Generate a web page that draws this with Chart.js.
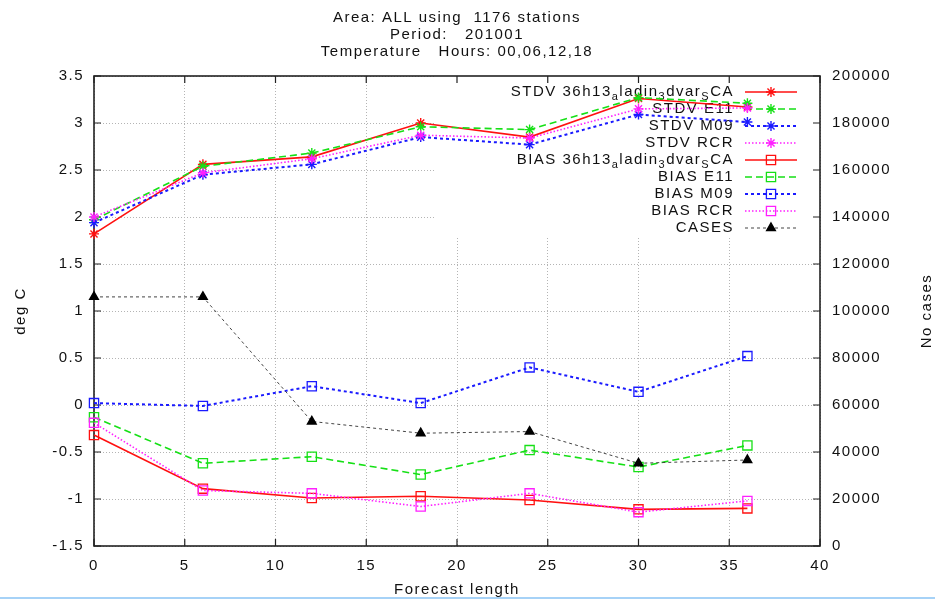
<!DOCTYPE html>
<html>
<head>
<meta charset="utf-8">
<title>Temperature verification 201001</title>
<script src="https://cdn.jsdelivr.net/npm/chart.js@4/dist/chart.umd.min.js"></script>
<style>
  html, body { margin: 0; padding: 0; background: #fff; overflow: hidden; }
  #wrap { width: 935px; height: 599px; position: relative; }
</style>
</head>
<body>
<div id="wrap"><canvas id="c" width="935" height="599"></canvas></div>
<script>
// ---- data -------------------------------------------------------------
const leadTimes = [0, 6, 12, 18, 24, 30, 36];

const stdvAladin = [1.82, 2.56, 2.64, 3.00, 2.85, 3.26, 3.17];
const stdvE11    = [1.97, 2.54, 2.68, 2.96, 2.93, 3.27, 3.21];
const stdvM09    = [1.94, 2.45, 2.56, 2.85, 2.77, 3.09, 3.01];
const stdvRCR    = [2.00, 2.47, 2.62, 2.87, 2.84, 3.15, 3.16];

const biasAladin = [-0.32, -0.89, -0.99, -0.97, -1.01, -1.11, -1.10];
const biasE11    = [-0.13, -0.62, -0.55, -0.74, -0.48, -0.66, -0.43];
const biasM09    = [0.02, -0.01, 0.20, 0.02, 0.40, 0.14, 0.52];
const biasRCR    = [-0.19, -0.91, -0.94, -1.08, -0.94, -1.14, -1.02];

const cases      = [106000, 106000, 53000, 48000, 48700, 35200, 36600];

// "_" marks the next character as a subscript
const seriesLabels = [
  'STDV 36h13_aladin_3dvar_SCA', 'STDV E11', 'STDV M09', 'STDV RCR',
  'BIAS 36h13_aladin_3dvar_SCA', 'BIAS E11', 'BIAS M09', 'BIAS RCR', 'CASES'
];

const titleLines = [
  'Area: ALL using  1176 stations',
  'Period:   201001',
  'Temperature   Hours: 00,06,12,18'
];

const xTicks      = [0, 5, 10, 15, 20, 25, 30, 35, 40];
const yLeftTicks  = [-1.5, -1, -0.5, 0, 0.5, 1, 1.5, 2, 2.5, 3, 3.5];
const yRightTicks = [0, 20000, 40000, 60000, 80000, 100000, 120000, 140000, 160000, 180000, 200000];

// ---- look -------------------------------------------------------------
const FONT = "'Liberation Sans', Arial, sans-serif";
const LETTER = '1.5px';
const INK = '#111';
const GRID = '#b4b4b4';

const RED = '#ff1010', GREEN = '#16e016', BLUE = '#1a1aff', MAGENTA = '#ff20ff', GREY = '#444';

const looks = [
  { color: RED,     dash: [],       width: 1.6, mark: 'star',     r: 5   },
  { color: GREEN,   dash: [7, 4],   width: 1.6, mark: 'star',     r: 5   },
  { color: BLUE,    dash: [3, 3],   width: 2.0, mark: 'star',     r: 5   },
  { color: MAGENTA, dash: [1.5, 2], width: 1.6, mark: 'star',     r: 5   },
  { color: RED,     dash: [],       width: 1.6, mark: 'rect',     r: 6.5 },
  { color: GREEN,   dash: [7, 4],   width: 1.6, mark: 'rect',     r: 6.5 },
  { color: BLUE,    dash: [3, 3],   width: 2.0, mark: 'rect',     r: 6.5 },
  { color: MAGENTA, dash: [1.5, 2], width: 1.6, mark: 'rect',     r: 6.5 },
  { color: GREY,    dash: [3, 3],   width: 1.0, mark: 'triangle', r: 5, markColor: '#000' }
];

const seriesValues = [stdvAladin, stdvE11, stdvM09, stdvRCR, biasAladin, biasE11, biasM09, biasRCR, cases];

const datasets = seriesValues.map((vals, i) => {
  const lk = looks[i];
  const isCases = i === seriesValues.length - 1;
  return {
    label: seriesLabels[i].replace(/_/g, ''),
    data: leadTimes.map((t, k) => ({ x: t, y: vals[k] })),
    yAxisID: isCases ? 'y2' : 'y',
    borderColor: lk.color,
    borderWidth: lk.width,
    borderDash: lk.dash,
    pointStyle: lk.mark,
    pointRadius: lk.r,
    pointBorderWidth: lk.mark === 'rect' ? 1.3 : 1.4,
    pointBorderColor: lk.markColor || lk.color,
    pointBackgroundColor: lk.mark === 'triangle' ? '#000' : 'rgba(0,0,0,0)',
    tension: 0,
    fill: false,
    clip: false,
    // later series are painted on top
    order: seriesValues.length - i
  };
});

// ---- key / frame drawing helpers ---------------------------------------
function drawMark(ctx, mark, x, y, r, color, fillColor, lw) {
  ctx.save();
  ctx.setLineDash([]);
  ctx.strokeStyle = color;
  ctx.lineWidth = lw;
  ctx.beginPath();
  if (mark === 'star') {
    const d = r * Math.SQRT1_2;
    ctx.moveTo(x - r, y); ctx.lineTo(x + r, y);
    ctx.moveTo(x, y - r); ctx.lineTo(x, y + r);
    ctx.moveTo(x - d, y - d); ctx.lineTo(x + d, y + d);
    ctx.moveTo(x - d, y + d); ctx.lineTo(x + d, y - d);
    ctx.stroke();
  } else if (mark === 'rect') {
    const s = r * Math.SQRT1_2;
    ctx.rect(x - s, y - s, 2 * s, 2 * s);
    ctx.stroke();
  } else {
    const h = Math.sin(Math.PI / 3) * r;
    ctx.moveTo(x, y - r);
    ctx.lineTo(x + h, y + r / 2);
    ctx.lineTo(x - h, y + r / 2);
    ctx.closePath();
    ctx.fillStyle = fillColor;
    ctx.fill();
    ctx.stroke();
  }
  ctx.restore();
}

function splitSubscripts(label) {
  const parts = [];
  let buf = '';
  for (let i = 0; i < label.length; i++) {
    if (label[i] === '_' && i + 1 < label.length) {
      if (buf) parts.push({ t: buf, sub: false });
      buf = '';
      parts.push({ t: label[i + 1], sub: true });
      i++;
    } else {
      buf += label[i];
    }
  }
  if (buf) parts.push({ t: buf, sub: false });
  return parts;
}

const KEY = {
  boxLeft: 436, boxBottom: 236,
  textRight: 734, lineX1: 745, lineX2: 797, markX: 771,
  rowTop: 92, rowStep: 17,
  size: 15, subSize: 11, subDrop: 5
};

const framePlugin = {
  id: 'gnuframe',
  beforeDraw(chart) {
    chart.ctx.letterSpacing = LETTER;
  },
  beforeDatasetsDraw(chart) {
    const { ctx, chartArea: a, scales } = chart;
    ctx.save();
    ctx.letterSpacing = LETTER;

    // opaque key area hides the grid behind it
    ctx.fillStyle = '#fff';
    ctx.fillRect(KEY.boxLeft, a.top, a.right - KEY.boxLeft, KEY.boxBottom - a.top);

    // key entries
    ctx.textBaseline = 'middle';
    ctx.fillStyle = INK;
    seriesLabels.forEach((label, i) => {
      const y = KEY.rowTop + i * KEY.rowStep;
      const parts = splitSubscripts(label);
      let total = 0;
      parts.forEach(p => {
        ctx.font = (p.sub ? KEY.subSize : KEY.size) + 'px ' + FONT;
        p.w = ctx.measureText(p.t).width;
        total += p.w;
      });
      let x = KEY.textRight - total;
      ctx.textAlign = 'left';
      parts.forEach(p => {
        ctx.font = (p.sub ? KEY.subSize : KEY.size) + 'px ' + FONT;
        ctx.fillText(p.t, x, p.sub ? y + KEY.subDrop : y);
        x += p.w;
      });

      const lk = looks[i];
      ctx.save();
      ctx.strokeStyle = lk.color;
      ctx.lineWidth = lk.width;
      ctx.setLineDash(lk.dash);
      ctx.beginPath();
      ctx.moveTo(KEY.lineX1, y);
      ctx.lineTo(KEY.lineX2, y);
      ctx.stroke();
      ctx.restore();
      drawMark(ctx, lk.mark, KEY.markX, y, lk.r, lk.markColor || lk.color, '#000', lk.mark === 'rect' ? 1.3 : 1.4);
    });

    // plot border
    ctx.setLineDash([]);
    ctx.strokeStyle = '#222';
    ctx.lineWidth = 1.6;
    ctx.strokeRect(a.left, a.top, a.right - a.left, a.bottom - a.top);

    // inward tick marks
    const T = 7;
    ctx.lineWidth = 1.2;
    ctx.beginPath();
    xTicks.forEach(v => {
      const px = scales.x.getPixelForValue(v);
      ctx.moveTo(px, a.bottom); ctx.lineTo(px, a.bottom - T);
      ctx.moveTo(px, a.top);    ctx.lineTo(px, a.top + T);
    });
    yLeftTicks.forEach(v => {
      const py = scales.y.getPixelForValue(v);
      ctx.moveTo(a.left, py); ctx.lineTo(a.left + T, py);
    });
    yRightTicks.forEach(v => {
      const py = scales.y2.getPixelForValue(v);
      ctx.moveTo(a.right, py); ctx.lineTo(a.right - T, py);
    });
    ctx.stroke();
    ctx.restore();
  },
  afterDraw(chart) {
    const { ctx, chartArea: a } = chart;
    ctx.save();
    ctx.letterSpacing = LETTER;
    // right-hand axis title, read bottom to top
    ctx.translate(927, (a.top + a.bottom) / 2);
    ctx.rotate(-Math.PI / 2);
    ctx.font = '15px ' + FONT;
    ctx.fillStyle = INK;
    ctx.textAlign = 'center';
    ctx.textBaseline = 'middle';
    ctx.fillText('No cases', 0, 0);
    ctx.restore();

    // thin blue rule along the bottom edge of the page
    ctx.save();
    ctx.fillStyle = '#a6d2f7';
    ctx.fillRect(0, 597, chart.width, 2);
    ctx.restore();
  }
};

const tickFont = { family: FONT, size: 15 };
const plainNumber = v => String(v);

new Chart(document.getElementById('c'), {
  type: 'line',
  data: { datasets },
  options: {
    responsive: false,
    animation: false,
    events: [],
    layout: { padding: 0 },
    plugins: {
      legend: { display: false },
      tooltip: { enabled: false },
      title: {
        display: true,
        text: titleLines,
        fullSize: false,
        color: INK,
        font: { family: FONT, size: 15, weight: 'normal', lineHeight: 17 / 15 },
        padding: { top: 9.5, bottom: 15.5 }
      }
    },
    scales: {
      x: {
        type: 'linear',
        min: 0, max: 40,
        afterBuildTicks: s => { s.ticks = xTicks.map(v => ({ value: v })); },
        afterFit: s => { s.height = 53; },
        grid: { color: GRID, lineWidth: 1, drawTicks: false },
        border: { display: false, dash: [1, 2] },
        ticks: { color: INK, font: tickFont, padding: 11, maxRotation: 0, autoSkip: false, callback: plainNumber },
        title: {
          display: true, text: 'Forecast length', color: INK,
          font: { family: FONT, size: 15 }, padding: { top: 0, bottom: 0 }
        }
      },
      y: {
        type: 'linear', position: 'left',
        min: -1.5, max: 3.5,
        afterBuildTicks: s => { s.ticks = yLeftTicks.map(v => ({ value: v })); },
        afterFit: s => { s.width = 94; },
        grid: { color: GRID, lineWidth: 1, drawTicks: false },
        border: { display: false, dash: [1, 2] },
        ticks: { color: INK, font: tickFont, padding: 10, callback: plainNumber },
        title: {
          display: true, text: 'deg C', color: INK,
          font: { family: FONT, size: 15 }, padding: { top: 12, bottom: 0 }
        }
      },
      y2: {
        type: 'linear', position: 'right',
        min: 0, max: 200000,
        afterBuildTicks: s => { s.ticks = yRightTicks.map(v => ({ value: v })); },
        afterFit: s => { s.width = 115; },
        grid: { display: false, drawTicks: false },
        border: { display: false },
        ticks: { color: INK, font: tickFont, padding: 12, callback: plainNumber }
      }
    }
  },
  plugins: [framePlugin]
});
</script>
</body>
</html>
